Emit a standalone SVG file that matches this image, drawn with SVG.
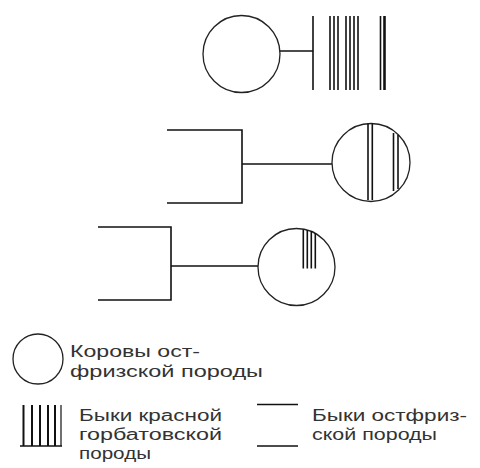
<svg xmlns="http://www.w3.org/2000/svg" width="480" height="468" viewBox="0 0 480 468">
<style>
.ln{stroke:#111;stroke-width:1.6;fill:none}
.bar{stroke:#111;stroke-width:1.6}
.c{stroke:#222;stroke-width:1.3;fill:#fff}
.t{font-family:"Liberation Sans",Arial,sans-serif;font-size:16px;fill:#333}
</style>
<rect width="480" height="468" fill="#fff"/>
<g id="connectors">
<line class="ln" x1="280" y1="51" x2="313" y2="51"/>
<line class="ln" x1="313" y1="16" x2="313" y2="90"/>
<polyline class="ln" points="167,130 242,130 242,203 167,203"/>
<line class="ln" x1="242" y1="164" x2="332" y2="164"/>
<polyline class="ln" points="98,227 171,227 171,300 98,300"/>
<line class="ln" x1="171" y1="266" x2="258" y2="266"/>
</g>
<g id="cow1"><circle class="c" cx="241.5" cy="54" r="38.5"/></g>
<g id="bulls1">
<line class="bar" x1="330" y1="16" x2="330" y2="90"/>
<line class="bar" x1="334" y1="16" x2="334" y2="90"/>
<line class="bar" x1="338" y1="16" x2="338" y2="90"/>
<line class="bar" x1="346" y1="16" x2="346" y2="90"/>
<line class="bar" x1="350" y1="16" x2="350" y2="90"/>
<line class="bar" x1="354" y1="16" x2="354" y2="90"/>
<line class="bar" x1="358" y1="16" x2="358" y2="90"/>
<line class="bar" x1="380.5" y1="16" x2="380.5" y2="90"/>
<line class="bar" x1="384.5" y1="16" x2="384.5" y2="90" style="stroke-width:2.6"/>
</g>
<g id="f1">
<circle class="c" cx="371" cy="162.5" r="39"/>
<line class="bar" x1="368" y1="123.5" x2="368" y2="200"/>
<line class="bar" x1="372.3" y1="123.5" x2="372.3" y2="200"/>
<line class="bar" x1="393.5" y1="133" x2="393.5" y2="191"/>
<line class="bar" x1="398" y1="135" x2="398" y2="189"/>
</g>
<g id="f2">
<circle class="c" cx="296.5" cy="267" r="38.5"/>
<line class="bar" x1="303.3" y1="229.5" x2="303.3" y2="268.5"/>
<line class="bar" x1="307.3" y1="230" x2="307.3" y2="268.5"/>
<line class="bar" x1="311.3" y1="231" x2="311.3" y2="268.5"/>
<line class="bar" x1="315.3" y1="233" x2="315.3" y2="268.5"/>
</g>
<g id="legend-cow">
<circle class="c" cx="38" cy="359" r="25"/>
<text class="t" x="70" y="357" textLength="130" lengthAdjust="spacingAndGlyphs">Коровы ост-</text>
<text class="t" x="70" y="377" textLength="193" lengthAdjust="spacingAndGlyphs">фризской породы</text>
</g>
<g id="legend-red">
<line class="bar" x1="23.5" y1="405" x2="23.5" y2="446" style="stroke-width:2"/>
<line class="bar" x1="32" y1="405" x2="32" y2="446" style="stroke-width:2"/>
<line class="bar" x1="40" y1="405" x2="40" y2="446" style="stroke-width:2"/>
<line class="bar" x1="48" y1="405" x2="48" y2="446" style="stroke-width:2"/>
<line class="bar" x1="55" y1="405" x2="55" y2="446" style="stroke-width:2"/>
<line class="bar" x1="61" y1="405" x2="61" y2="446" style="stroke-width:1.2"/>
<line class="ln" x1="20" y1="446" x2="62" y2="446"/>
<text class="t" x="79" y="421" textLength="143" lengthAdjust="spacingAndGlyphs">Быки красной</text>
<text class="t" x="79" y="440" textLength="143" lengthAdjust="spacingAndGlyphs">горбатовской</text>
<text class="t" x="79" y="459" textLength="72" lengthAdjust="spacingAndGlyphs">породы</text>
</g>
<g id="legend-ost">
<line class="ln" x1="257" y1="404.5" x2="298" y2="404.5"/>
<line class="ln" x1="257" y1="446" x2="298" y2="446"/>
<text class="t" x="312" y="421" textLength="155" lengthAdjust="spacingAndGlyphs">Быки остфриз-</text>
<text class="t" x="312" y="440" textLength="125" lengthAdjust="spacingAndGlyphs">ской породы</text>
</g>
</svg>
